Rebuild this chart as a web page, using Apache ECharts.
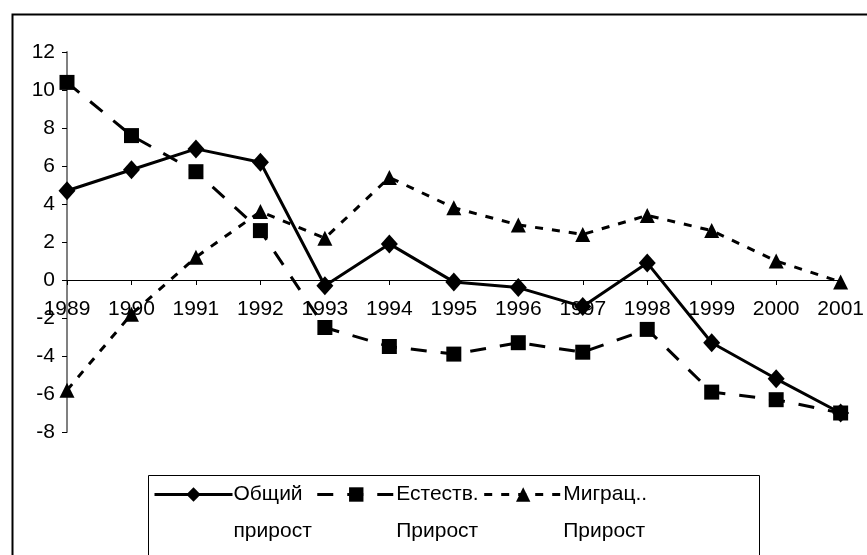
<!DOCTYPE html>
<html lang="ru">
<head>
    <meta charset="UTF-8">
    <title>Прирост населения</title>
    <script src="https://cdn.jsdelivr.net/npm/echarts@6/dist/echarts.min.js"></script>
    <style>
        html, body { margin: 0; padding: 0; background: #fff; }
        #chart { width: 867px; height: 555px; }
    </style>
</head>
<body>
<div id="chart"></div>
<script>
    // годы
    var years = ['1989', '1990', '1991', '1992', '1993', '1994', '1995', '1996', '1997', '1998', '1999', '2000', '2001'];
    // общий прирост
    var totalGrowth = [4.7, 5.8, 6.9, 6.2, -0.3, 1.9, -0.1, -0.4, -1.4, 0.9, -3.3, -5.2, -7.0];
    // естественный прирост
    var naturalGrowth = [10.4, 7.6, 5.7, 2.6, -2.5, -3.5, -3.9, -3.3, -3.8, -2.6, -5.9, -6.3, -7.0];
    // миграционный прирост
    var migrationGrowth = [-5.8, -1.8, 1.2, 3.6, 2.2, 5.4, 3.8, 2.9, 2.4, 3.4, 2.6, 1.0, -0.1];
    var seriesNames = ['Общий прирост', 'Естеств. Прирост', 'Миграц.. Прирост'];
    // пустая первая строка, чтобы значок стоял напротив первой строки подписи
    var legendText = {
        'Общий прирост': ' \nОбщий\nприрост',
        'Естеств. Прирост': ' \nЕстеств.\nПрирост',
        'Миграц.. Прирост': ' \nМиграц..\nПрирост'
    };

    var font = '"Liberation Sans", Arial, sans-serif';

    var option = {
        backgroundColor: '#fff',
        animation: false,
        textStyle: { fontFamily: font },
        graphic: [{
            // рамка диаграммы
            type: 'rect',
            left: 10,
            top: 12,
            shape: { width: 900, height: 600 },
            style: { fill: 'none', stroke: '#000', lineWidth: 2 },
            silent: true
        }, {
            // рамка легенды
            type: 'rect',
            left: 146,
            top: 473,
            shape: { width: 611, height: 80 },
            style: { fill: 'none', stroke: '#000', lineWidth: 1 },
            silent: true
        }],
        grid: { left: 67, right: 25, top: 52, bottom: 123, containLabel: false },
        legend: {
            data: seriesNames,
            left: 153,
            top: 439,
            padding: 0,
            itemWidth: 78,
            itemHeight: 18,
            itemGap: 4,
            lineStyle: { width: 3 },
            formatter: function (name) { return legendText[name]; },
            textStyle: { color: '#000', fontSize: 21, lineHeight: 37, fontFamily: font, padding: [0, 0, 0, -4] }
        },
        xAxis: {
            type: 'category',
            data: years,
            boundaryGap: false,
            offset: -152,
            axisLine: { onZero: false, lineStyle: { color: '#000', width: 1 } },
            axisTick: { show: true, length: 5, lineStyle: { color: '#000' } },
            axisLabel: { color: '#000', fontSize: 21, margin: 19, interval: 0, fontFamily: font },
            splitLine: { show: false }
        },
        yAxis: {
            type: 'value',
            min: -8,
            max: 12,
            interval: 2,
            axisLine: { show: true, lineStyle: { color: '#808080', width: 2 } },
            axisTick: { show: true, length: 5, lineStyle: { color: '#000' } },
            axisLabel: { color: '#000', fontSize: 21, margin: 12, fontFamily: font },
            splitLine: { show: false }
        },
        series: [{
            name: seriesNames[0],
            type: 'line',
            data: totalGrowth,
            symbol: 'diamond',
            symbolSize: [17, 19],
            lineStyle: { color: '#000', width: 3 },
            itemStyle: { color: '#000' }
        }, {
            name: seriesNames[1],
            type: 'line',
            data: naturalGrowth,
            symbol: 'rect',
            symbolSize: 15,
            lineStyle: { color: '#000', width: 3, type: [16, 14] },
            itemStyle: { color: '#000' }
        }, {
            name: seriesNames[2],
            type: 'line',
            data: migrationGrowth,
            symbol: 'triangle',
            symbolSize: [15, 15],
            lineStyle: { color: '#000', width: 3, type: [8, 9] },
            itemStyle: { color: '#000' }
        }]
    };

    var chart = echarts.init(document.getElementById('chart'));
    chart.setOption(option);
</script>
</body>
</html>
